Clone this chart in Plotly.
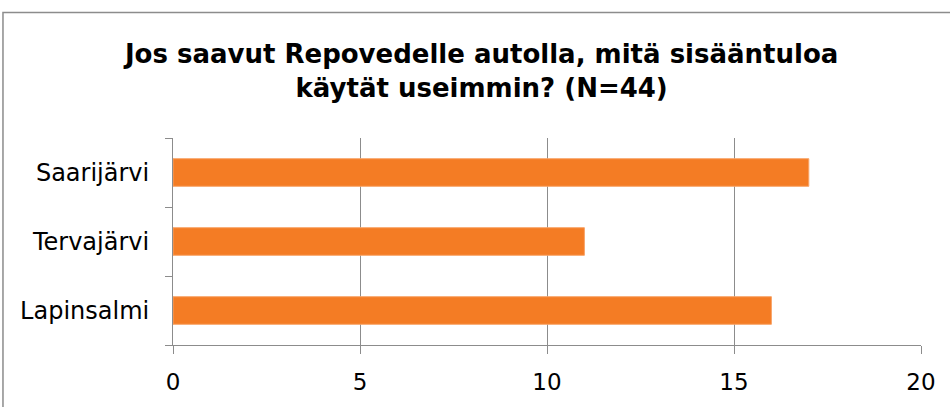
import plotly.graph_objects as go

categories = ["Lapinsalmi", "Tervajärvi", "Saarijärvi"]
values = [16, 11, 17]
x_ticks = [0, 5, 10, 15, 20]
title_text = "<b>Jos saavut Repovedelle autolla, mitä sisääntuloa<br>käytät useimmin? (N=44)</b>"

font_family = "DejaVu Sans, Verdana, sans-serif"

fig = go.Figure()
fig.add_trace(go.Bar(
    x=values, y=categories, orientation="h",
    marker=dict(color="#F47C24", line=dict(color="#F8A468", width=1)),
    width=0.4,
))

fig.update_layout(
    width=950, height=407,
    margin=dict(l=173, r=29, t=138, b=58),
    paper_bgcolor="white", plot_bgcolor="white",
    showlegend=False,
    title=dict(text=title_text, x=0.507, xanchor="center", y=0.845, yanchor="middle",
               font=dict(family=font_family, size=26, color="black")),
    font=dict(family=font_family, size=23, color="black"),
    xaxis=dict(range=[0, 20], tickvals=x_ticks, showgrid=True, gridcolor="#8C8C8C", gridwidth=1,
               showline=True, linecolor="#8C8C8C", linewidth=1, ticks="outside", ticklen=8,
               tickcolor="#8C8C8C", zeroline=False, ticklabelstandoff=8,
               tickfont=dict(size=23, color="black")),
    yaxis=dict(type="category", showline=True, linecolor="#8C8C8C", linewidth=1, ticks="outside",
               tickson="boundaries", ticklen=7, tickcolor="#8C8C8C", showgrid=False,
               ticklabelstandoff=18, tickfont=dict(size=24, color="black")),
    shapes=[dict(type="rect", xref="paper", yref="paper", x0=-0.2273, x1=1.5, y0=-1.0, y1=1.6066,
                 line=dict(color="#8C8C8C", width=1.5), fillcolor="rgba(0,0,0,0)", layer="below")],
)

fig.write_html("out.html", config={"displayModeBar": False},
               post_script="document.body.style.margin='0';document.body.style.overflow='hidden';")
